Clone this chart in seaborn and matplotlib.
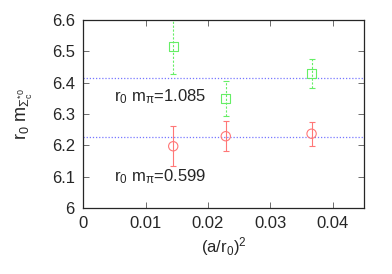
import matplotlib
matplotlib.use("Agg")
import matplotlib.pyplot as plt
import seaborn as sns
import pandas as pd

# lattice spacing (a/r0)^2
a2 = [0.01443, 0.02284, 0.03658]

# heavy pion mass (r0 m_pi = 1.085)
heavy_y = [6.515, 6.349, 6.428]
heavy_err = [0.088, 0.057, 0.046]
heavy_fit = 6.414

# light pion mass (r0 m_pi = 0.599)
light_y = [6.197, 6.229, 6.237]
light_err = [0.064, 0.048, 0.039]
light_fit = 6.226

sns.set_style("ticks")
plt.rcParams['font.family'] = ['Liberation Sans', 'DejaVu Sans']
plt.rcParams['mathtext.fontset'] = 'custom'
plt.rcParams['mathtext.rm'] = 'Liberation Sans'
plt.rcParams['mathtext.it'] = 'Liberation Sans'

fig, ax = plt.subplots(figsize=(3.92, 2.74), dpi=100)
fig.subplots_adjust(left=0.212, right=0.929, top=0.927, bottom=0.241)

df_h = pd.DataFrame({"x": a2, "y": heavy_y})
df_l = pd.DataFrame({"x": a2, "y": light_y})

green = "#66ee66"
red = "#ff7777"
blue = "#7777ff"

ax.axhline(heavy_fit, color=blue, ls=(0, (1, 1.5)), lw=0.9)
ax.axhline(light_fit, color=blue, ls=(0, (1, 1.5)), lw=0.9)

eb = ax.errorbar(a2, heavy_y, yerr=heavy_err, fmt="none", ecolor=green,
                 elinewidth=0.8, capsize=2.5, capthick=0.8)
eb[-1][0].set_linestyle((0, (2, 1.5)))
ax.errorbar(a2, light_y, yerr=light_err, fmt="none", ecolor=red,
            elinewidth=0.8, capsize=2.5, capthick=0.8)

sns.scatterplot(data=df_h, x="x", y="y", marker="s", s=40, facecolor="none",
                edgecolor=green, linewidth=0.8, ax=ax, zorder=3)
sns.scatterplot(data=df_l, x="x", y="y", marker="o", s=45, facecolor="none",
                edgecolor=red, linewidth=0.8, ax=ax, zorder=3)

ax.text(0.005, 6.355, r"r$_0$ m$_\pi$=1.085", fontsize=12, va="center")
ax.text(0.005, 6.1, r"r$_0$ m$_\pi$=0.599", fontsize=12, va="center")

ax.set_xlim(0, 0.045)
ax.set_ylim(6.0, 6.6)
ax.set_xticks([0, 0.01, 0.02, 0.03, 0.04])
ax.set_xticklabels(["0", "0.01", "0.02", "0.03", "0.04"])
ax.set_yticks([6.0, 6.1, 6.2, 6.3, 6.4, 6.5, 6.6])
ax.set_yticklabels(["6", "6.1", "6.2", "6.3", "6.4", "6.5", "6.6"])
ax.tick_params(direction="in", top=True, right=True, labelsize=12, length=4,
               width=0.6, color="#555555", pad=6)
for sp in ax.spines.values():
    sp.set_linewidth(0.9)

ax.set_xlabel(r"(a/r$_0$)$^2$", fontsize=12, labelpad=3)
ax.set_ylabel(r"r$_0$ m$_{\Sigma_c^{*0}}$", fontsize=13, labelpad=12)

fig.savefig("out.png", dpi=100)
